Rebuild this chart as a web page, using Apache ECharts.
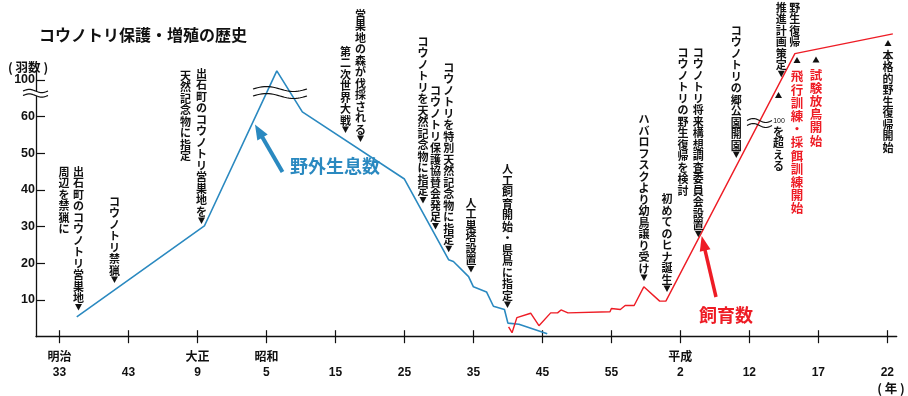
<!DOCTYPE html>
<html><head><meta charset="utf-8">
<script src="https://cdn.jsdelivr.net/npm/echarts@6/dist/echarts.min.js"></script>
<style>html,body{margin:0;padding:0;background:#fff}#c{width:908px;height:396px}</style>
</head><body><div id="c"></div>
<script>
// ---- data ----
const tickYears = [1900, 1910, 1920, 1930, 1940, 1950, 1960, 1970, 1980, 1990, 2000, 2005, 2010];
const tickEras  = ['明治', '', '大正', '昭和', '', '', '', '', '', '平成', '', '', ''];
const tickNums  = ['33', '43', '9', '5', '15', '25', '35', '45', '55', '2', '12', '17', '22'];
// y values are on the chart's broken scale (tick 70 is labelled 100)
const yTicks      = [10, 20, 30, 40, 50, 60, 70];
const yTickLabels = ['10', '20', '30', '40', '50', '60', '100'];
const wildYears  = [1902.5, 1921, 1931.5, 1935.2, 1950, 1956.4, 1957.1, 1959.3, 1960, 1961.9, 1962.9, 1964.5, 1965, 1966.6, 1970.7];
const wildCounts = [5.4, 30.2, 72.5, 61.3, 43, 21, 20.5, 16.4, 13.6, 12.2, 8.3, 7.4, 3.7, 3.4, 0.8];
const captiveYears  = [1965.1, 1965.6, 1966.3, 1968.3, 1969.5, 1971.2, 1972.2, 1972.7, 1973.7, 1979.8, 1980.0, 1981.3, 1982.0, 1983.3, 1984.7, 1987.0, 1987.9, 2003.3, 2010.4];
const captiveCounts = [2.7, 1.1, 5.2, 6.4, 3.0, 6.5, 6.5, 7.3, 6.5, 6.8, 7.7, 7.4, 8.5, 8.5, 13.6, 9.7, 9.7, 77.2, 82.6];

// ---- layout ----
const BLUE = '#2a89c0', RED = '#ee1c25';
const CJK = "'Noto Sans CJK JP', sans-serif";
const NUMF = "'Liberation Sans', Arial, 'Noto Sans CJK JP', sans-serif";
// x position on the axis: 10-year steps until 2000, 5-year steps after
const axisPos = y => y <= 2000 ? (y - 1900) / 10 : 10 + (y - 2000) / 5;
const tickPos = tickYears.map(axisPos);

const notes = [
  {t:'出石町のコウノトリ営巣地', x:78.5, y:166, m:'down'},
  {t:'周辺を禁猟に', x:64, y:166},
  {t:'コウノトリ禁猟', x:114.5, y:196, m:'down'},
  {t:'出石町のコウノトリ営巣地を', x:201.5, y:68, m:'down'},
  {t:'天然記念物に指定', x:185.5, y:70},
  {t:'営巣地の森が伐採される', x:360.5, y:9, m:'down'},
  {t:'第二次世界大戦', x:345.5, y:46, m:'down'},
  {t:'コウノトリを天然記念物に指定', x:423, y:36, m:'down'},
  {t:'コウノトリを特別天然記念物に指定', x:448.7, y:61.7, m:'down'},
  {t:'コウノトリ保護協賛会発足', x:435.5, y:85, m:'down'},
  {t:'人工巣塔設置', x:471, y:197, m:'down'},
  {t:'人工飼育開始・県鳥に指定', x:507.5, y:163.5, m:'down'},
  {t:'ハバロフスクより幼鳥譲り受け', x:644, y:113.5, m:'down'},
  {t:'初めてのヒナ誕生', x:667, y:193.5, m:'down'},
  {t:'コウノトリ将来構想調査委員会設置', x:698.3, y:46.7, m:'down'},
  {t:'コウノトリの野生復帰を検討', x:683, y:46.7},
  {t:'コウノトリの郷公園開園', x:736.3, y:25, m:'down'},
  {t:'野生復帰', x:794.7, y:1.7},
  {t:'推進計画策定', x:781.3, y:1.7, m:'down'},
  {t:'を超える', x:778.5, y:126, up:92},
  {t:'飛行訓練・採餌訓練開始', x:797, y:70, up:57, red:true},
  {t:'試験放鳥開始', x:816, y:68.3, up:56.5, red:true},
  {t:'本格的野生復帰開始', x:888, y:50, up:40}
];

const g = [];
g.push({type:'text', x:39, y:35, style:{text:'コウノトリ保護・増殖の歴史', fill:'#111', font:'bold 16px ' + CJK, align:'left', verticalAlign:'middle'}});
g.push({type:'text', x:8, y:67, style:{text:'( 羽数 )', fill:'#111', font:'bold 12.5px ' + CJK, align:'left', verticalAlign:'middle'}});
g.push({type:'text', x:891, y:388, style:{text:'( 年 )', fill:'#111', font:'bold 12.5px ' + CJK, align:'center', verticalAlign:'middle'}});

notes.forEach(n => {
  const chars = Array.from(n.t);
  const pitch = n.red ? 13.2 : 11.5;
  const size = n.red ? 12.5 : 11;
  const col = n.red ? RED : '#111';
  g.push({type:'text', x:n.x, y:n.y, z:5, style:{text:chars.join('\n'), fill:col, font:'bold ' + size + 'px ' + CJK, lineHeight:pitch, align:'center', verticalAlign:'top'}});
  if (n.m === 'down') {
    const top = n.y + chars.length * pitch;
    g.push({type:'polygon', z:5, shape:{points:[[n.x-3.5, top],[n.x+3.5, top],[n.x, top+6.5]]}, style:{fill:'#111'}});
  }
  if (n.up !== undefined) {
    g.push({type:'polygon', z:5, shape:{points:[[n.x, n.up],[n.x-3.5, n.up+6],[n.x+3.5, n.up+6]]}, style:{fill:'#111'}});
  }
});
g.push({type:'text', x:779, y:121.5, z:5, style:{text:'100', fill:'#111', font:'7px ' + NUMF, align:'center', verticalAlign:'middle'}});

// wavy break marks
function wave(x0, w, cy, a) {
  const pts = [];
  for (let i = 0; i <= 24; i++) { const t = i / 24; pts.push([x0 + w * t, cy - a * Math.sin(2 * Math.PI * t)]); }
  return pts;
}
function breakMark(x0, w, c1, c2, a, fillWhite) {
  if (fillWhite) {
    const p = wave(x0, w, c1, a).concat(wave(x0, w, c2, a).reverse());
    g.push({type:'polygon', z:6, shape:{points:p}, style:{fill:'#fff'}});
  }
  [c1, c2].forEach(c => g.push({type:'polyline', z:7, shape:{points:wave(x0, w, c, a)}, style:{stroke:'#111', lineWidth:1.2, fill:null}}));
}
breakMark(23, 25, 91, 95.5, 1.6, true);
breakMark(253, 54, 89, 96, 2.5, false);
breakMark(747, 25, 120.5, 125.5, 2, false);

// arrows
function arrow(x1, y1, x2, y2, color, w, hl, hw) {
  const dx = x2 - x1, dy = y2 - y1, L = Math.hypot(dx, dy), ux = dx / L, uy = dy / L;
  const bx = x2 - ux * hl, by = y2 - uy * hl;
  g.push({type:'line', z:5, shape:{x1, y1, x2:bx + ux * 2, y2:by + uy * 2}, style:{stroke:color, lineWidth:w}});
  g.push({type:'polygon', z:5, shape:{points:[[x2, y2], [bx - uy * hw / 2, by + ux * hw / 2], [bx + uy * hw / 2, by - ux * hw / 2]]}, style:{fill:color}});
}
arrow(282.5, 172, 255, 124.5, BLUE, 4, 15, 12);
arrow(716, 297, 701.7, 236, RED, 3.5, 15, 11);
g.push({type:'text', x:290, y:166, style:{text:'野外生息数', fill:BLUE, font:'bold 18px ' + CJK, align:'left', verticalAlign:'middle'}});
g.push({type:'text', x:699, y:315.5, style:{text:'飼育数', fill:RED, font:'bold 18px ' + CJK, align:'left', verticalAlign:'middle'}});

const chart = echarts.init(document.getElementById('c'), null, {renderer:'canvas'});
const xMin = -0.3407, xMax = 12.136;
chart.setOption({
  animation: false,
  backgroundColor: '#fff',
  grid: {left:36, top:71.6, width:860.7, height:265.1, containLabel:false},
  xAxis: [{
    type:'value', min:xMin, max:xMax,
    axisLine:{show:true, onZero:false, lineStyle:{color:'#111', width:1.3}},
    axisTick:{show:true, customValues:tickPos, length:6.5, inside:false, lineStyle:{color:'#111', width:1.2}},
    axisLabel:{show:true, customValues:tickPos, margin:13.5, color:'#111', fontSize:12, fontWeight:'bold', fontFamily:NUMF, lineHeight:15,
      formatter: v => { const i = tickPos.findIndex(p => Math.abs(p - v) < 1e-6); return i < 0 ? '' : tickEras[i] + '\n' + tickNums[i]; }},
    splitLine:{show:false}
  }, {
    type:'value', min:xMin, max:xMax, position:'bottom',
    axisLine:{show:false, onZero:false},
    axisTick:{show:true, customValues:tickPos, length:6.5, inside:true, lineStyle:{color:'#111', width:1.2}},
    axisLabel:{show:false}, splitLine:{show:false}
  }],
  yAxis: {
    type:'value', min:0, max:72.3,
    axisLine:{show:true, onZero:false, lineStyle:{color:'#111', width:1.3}},
    axisTick:{show:true, customValues:yTicks, inside:true, length:9, lineStyle:{color:'#111', width:1.2}},
    axisLabel:{show:true, customValues:yTicks, margin:1, color:'#111', fontSize:12.5, fontWeight:'bold', fontFamily:NUMF,
      formatter: v => { const i = yTicks.indexOf(v); return i < 0 ? '' : yTickLabels[i]; }},
    splitLine:{show:false}
  },
  series: [
    {type:'line', name:'野外生息数', clip:false, symbol:'none', data: wildYears.map((y, i) => [axisPos(y), wildCounts[i]]), lineStyle:{color:BLUE, width:1.6}, itemStyle:{color:BLUE}, z:3},
    {type:'line', name:'飼育数', clip:false, symbol:'none', data: captiveYears.map((y, i) => [axisPos(y), captiveCounts[i]]), lineStyle:{color:RED, width:1.4}, itemStyle:{color:RED}, z:3}
  ],
  graphic: g
});
</script>
</body></html>
